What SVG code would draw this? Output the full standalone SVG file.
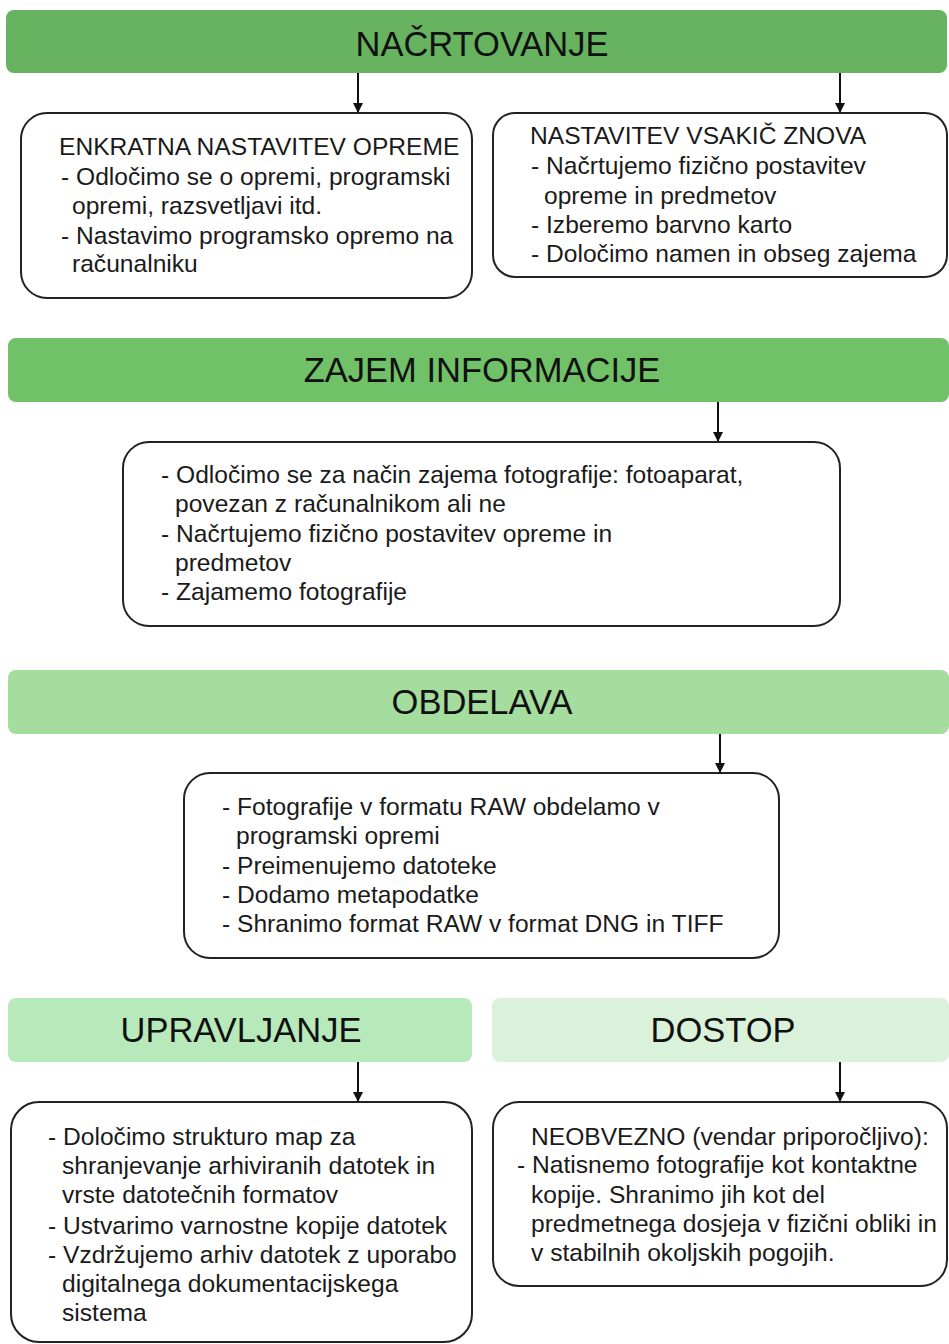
<svg xmlns="http://www.w3.org/2000/svg" width="949" height="1344" viewBox="0 0 949 1344">
<defs>
<marker id="ah" markerWidth="10" markerHeight="10" refX="9" refY="5" orient="auto" markerUnits="userSpaceOnUse" viewBox="0 0 10 10">
<path d="M0,0 L10,5 L0,10 Z" fill="#111"/>
</marker>
</defs>
<style>
.hdr{stroke:none}
.ht{font-family:"Liberation Sans",Arial,sans-serif;font-size:34.5px;fill:#111;text-anchor:middle}
.box{fill:#fff;stroke:#222;stroke-width:2}
.bt{font-family:"Liberation Sans",Arial,sans-serif;font-size:24.6px;fill:#1a1a1a}
.con{stroke:#111;stroke-width:2;fill:none}
</style>
<rect width="949" height="1344" fill="#fff"/>

<g id="h-nacrtovanje">
<rect class="hdr" x="6" y="10" width="941" height="63" rx="8" fill="#67b35f"/>
<text class="ht" x="482" y="56">NAČRTOVANJE</text>
</g>

<g id="b-enkratna">
<rect class="box" x="21" y="113" width="451" height="185" rx="26"/>
<text class="bt"><tspan x="59" y="155">ENKRATNA NASTAVITEV OPREME</tspan><tspan x="61" y="185">- Odločimo se o opremi, programski</tspan><tspan x="72" y="214">opremi, razsvetljavi itd.</tspan><tspan x="61" y="244">- Nastavimo programsko opremo na</tspan><tspan x="72" y="272">računalniku</tspan></text>
</g>

<g id="b-vsakic">
<rect class="box" x="493" y="113" width="454" height="164" rx="22"/>
<text class="bt"><tspan x="530" y="144">NASTAVITEV VSAKIČ ZNOVA</tspan><tspan x="531" y="174">- Načrtujemo fizično postavitev</tspan><tspan x="544" y="204">opreme in predmetov</tspan><tspan x="531" y="233">- Izberemo barvno karto</tspan><tspan x="531" y="262">- Določimo namen in obseg zajema</tspan></text>
</g>

<g id="h-zajem">
<rect class="hdr" x="8" y="338" width="941" height="64" rx="8" fill="#70c167"/>
<text class="ht" x="482" y="382">ZAJEM INFORMACIJE</text>
</g>

<g id="b-zajem">
<rect class="box" x="123" y="442" width="717" height="184" rx="26"/>
<text class="bt"><tspan x="161" y="483">- Odločimo se za način zajema fotografije: fotoaparat,</tspan><tspan x="175" y="512">povezan z računalnikom ali ne</tspan><tspan x="161" y="542">- Načrtujemo fizično postavitev opreme in</tspan><tspan x="175" y="571">predmetov</tspan><tspan x="161" y="600">- Zajamemo fotografije</tspan></text>
</g>

<g id="h-obdelava">
<rect class="hdr" x="8" y="670" width="941" height="64" rx="8" fill="#a5dd9f"/>
<text class="ht" x="482" y="714">OBDELAVA</text>
</g>

<g id="b-obdelava">
<rect class="box" x="184" y="773" width="595" height="185" rx="26"/>
<text class="bt"><tspan x="222" y="815">- Fotografije v formatu RAW obdelamo v</tspan><tspan x="236" y="844">programski opremi</tspan><tspan x="222" y="874">- Preimenujemo datoteke</tspan><tspan x="222" y="903">- Dodamo metapodatke</tspan><tspan x="222" y="932">- Shranimo format RAW v format DNG in TIFF</tspan></text>
</g>

<g id="h-upravljanje">
<rect class="hdr" x="8" y="998" width="464" height="64" rx="8" fill="#b8e9bb"/>
<text class="ht" x="241" y="1042">UPRAVLJANJE</text>
</g>

<g id="h-dostop">
<rect class="hdr" x="492" y="998" width="457" height="64" rx="8" fill="#dbf2da"/>
<text class="ht" x="723" y="1042">DOSTOP</text>
</g>

<g id="b-upravljanje">
<rect class="box" x="11" y="1102" width="461" height="240" rx="28"/>
<text class="bt"><tspan x="48" y="1145">- Določimo strukturo map za</tspan><tspan x="62" y="1174">shranjevanje arhiviranih datotek in</tspan><tspan x="62" y="1203">vrste datotečnih formatov</tspan><tspan x="48" y="1234">- Ustvarimo varnostne kopije datotek</tspan><tspan x="48" y="1263">- Vzdržujemo arhiv datotek z uporabo</tspan><tspan x="62" y="1292">digitalnega dokumentacijskega</tspan><tspan x="62" y="1321">sistema</tspan></text>
</g>

<g id="b-dostop">
<rect class="box" x="493" y="1102" width="454" height="184" rx="26"/>
<text class="bt"><tspan x="531" y="1145">NEOBVEZNO (vendar priporočljivo):</tspan><tspan x="517" y="1173">- Natisnemo fotografije kot kontaktne</tspan><tspan x="531" y="1203">kopije. Shranimo jih kot del</tspan><tspan x="531" y="1232">predmetnega dosjeja v fizični obliki in</tspan><tspan x="531" y="1261">v stabilnih okoljskih pogojih.</tspan></text>
</g>

<g id="connectors">
<line class="con" x1="358" y1="73" x2="358" y2="112" marker-end="url(#ah)"/>
<line class="con" x1="840" y1="73" x2="840" y2="112" marker-end="url(#ah)"/>
<line class="con" x1="718" y1="402" x2="718" y2="441" marker-end="url(#ah)"/>
<line class="con" x1="720" y1="734" x2="720" y2="772" marker-end="url(#ah)"/>
<line class="con" x1="358" y1="1062" x2="358" y2="1101" marker-end="url(#ah)"/>
<line class="con" x1="840" y1="1062" x2="840" y2="1101" marker-end="url(#ah)"/>
</g>
</svg>
